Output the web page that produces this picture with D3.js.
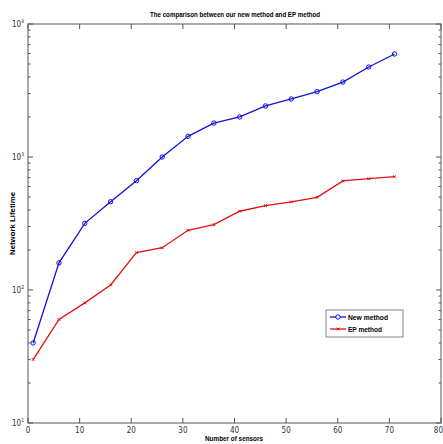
<!DOCTYPE html>
<html>
<head>
<meta charset="utf-8">
<script src="https://cdn.jsdelivr.net/npm/d3@7"></script>
<style>
  body { margin: 0; background: #fff; }
  svg { display: block; }
  .tick-label { font-family: "Liberation Sans Narrow", "DejaVu Sans Condensed", Arial, sans-serif; font-size: 8px; fill: #333; }
  .lbl { font-family: "Liberation Sans", Arial, sans-serif; font-weight: bold; font-size: 8px; fill: #000; }
</style>
</head>
<body>
<div id="chart"></div>
<script>
const sensors = [1, 6, 11, 16, 21, 26, 31, 36, 41, 46, 51, 56, 61, 66, 71];
const newMethod = [40, 160, 317, 461, 664, 1000, 1430, 1800, 2000, 2420, 2730, 3100, 3660, 4750, 5950];
const epMethod = [30, 60, 80, 109, 191, 208, 281, 310, 391, 431, 459, 498, 661, 687, 711];
const xTicks = [0, 10, 20, 30, 40, 50, 60, 70, 80];
const yDecades = [1, 2, 3, 4];

const width = 443, height = 444;
const margin = {top: 24, right: 2, bottom: 21, left: 28};

const svg = d3.select("#chart")
  .append("svg")
    .attr("width", width)
    .attr("height", height);

const x = d3.scaleLinear()
  .domain([0, 80])
  .range([margin.left, width - margin.right]);

const y = d3.scaleLog()
  .domain([10, 10000])
  .range([height - margin.bottom, margin.top]);

const axisColor = "#555";

// box
svg.append("rect")
  .attr("x", x(0))
  .attr("y", y(10000))
  .attr("width", x(80) - x(0))
  .attr("height", y(10) - y(10000))
  .attr("fill", "none")
  .attr("stroke", axisColor)
  .attr("stroke-width", 1);

// x ticks (inside, top and bottom)
const xt = svg.append("g").attr("stroke", axisColor);
xTicks.forEach(t => {
  xt.append("line").attr("x1", x(t)).attr("x2", x(t)).attr("y1", y(10)).attr("y2", y(10) - 5);
  xt.append("line").attr("x1", x(t)).attr("x2", x(t)).attr("y1", y(10000)).attr("y2", y(10000) + 5);
});
svg.append("g").selectAll("text")
  .data(xTicks)
  .join("text")
    .attr("class", "tick-label")
    .attr("x", d => d === 80 ? width : x(d))
    .attr("y", y(10) + 10)
    .attr("text-anchor", d => d === 80 ? "end" : "middle")
    .text(d => d);

// y ticks: decades + minor
const yt = svg.append("g").attr("stroke", axisColor);
const minor = [];
for (let e = 1; e < 4; e++) for (let m = 2; m <= 9; m++) minor.push(m * Math.pow(10, e));
minor.forEach(v => {
  yt.append("line").attr("x1", x(0)).attr("x2", x(0) + 2.5).attr("y1", y(v)).attr("y2", y(v));
  yt.append("line").attr("x1", x(80)).attr("x2", x(80) - 2.5).attr("y1", y(v)).attr("y2", y(v));
});
yDecades.forEach(e => {
  const v = Math.pow(10, e);
  yt.append("line").attr("x1", x(0)).attr("x2", x(0) + 5).attr("y1", y(v)).attr("y2", y(v));
  yt.append("line").attr("x1", x(80)).attr("x2", x(80) - 5).attr("y1", y(v)).attr("y2", y(v));
});
const yl = svg.append("g").selectAll("text")
  .data(yDecades)
  .join("text")
    .attr("class", "tick-label")
    .attr("x", x(0) - 4)
    .attr("y", d => y(Math.pow(10, d)) + 3)
    .attr("text-anchor", "end");
yl.append("tspan").text("10");
yl.append("tspan").attr("dy", -4).attr("font-size", 5).text(d => d);

// lines
const line = d3.line()
  .x(d => x(d[0]))
  .y(d => y(d[1]));

const blue = "#1010e0", red = "#e01010";

svg.append("path")
  .datum(sensors.map((s, i) => [s, newMethod[i]]))
  .attr("fill", "none")
  .attr("stroke", blue)
  .attr("stroke-width", 1.3)
  .attr("d", line);

svg.append("g").selectAll("circle")
  .data(sensors.map((s, i) => [s, newMethod[i]]))
  .join("circle")
    .attr("cx", d => x(d[0]))
    .attr("cy", d => y(d[1]))
    .attr("r", 2.2)
    .attr("fill", "none")
    .attr("stroke", blue)
    .attr("stroke-width", 1);

svg.append("path")
  .datum(sensors.map((s, i) => [s, epMethod[i]]))
  .attr("fill", "none")
  .attr("stroke", red)
  .attr("stroke-width", 1.3)
  .attr("d", line);

const cross = d3.symbol().type(d3.symbolX).size(6);
svg.append("g").selectAll("path")
  .data(sensors.map((s, i) => [s, epMethod[i]]))
  .join("path")
    .attr("transform", d => `translate(${x(d[0])},${y(d[1])})`)
    .attr("d", cross)
    .attr("fill", "none")
    .attr("stroke", red)
    .attr("stroke-width", 1);

// title and axis labels (squeezed to the narrow look of the original)
svg.append("text")
  .attr("class", "lbl")
  .attr("x", 150)
  .attr("y", 17)
  .attr("textLength", 170)
  .attr("lengthAdjust", "spacingAndGlyphs")
  .text("The comparison between our new method and EP method");

svg.append("text")
  .attr("class", "lbl")
  .attr("x", 205)
  .attr("y", 441)
  .attr("textLength", 58)
  .attr("lengthAdjust", "spacingAndGlyphs")
  .text("Number of sensors");

svg.append("text")
  .attr("class", "lbl")
  .attr("transform", "translate(15,255) rotate(-90)")
  .attr("textLength", 63)
  .attr("lengthAdjust", "spacingAndGlyphs")
  .text("Network Lifetime");

// legend
const legend = svg.append("g").attr("transform", "translate(326,310)");
legend.append("rect")
  .attr("width", 77)
  .attr("height", 27)
  .attr("fill", "#fff")
  .attr("stroke", "#666")
  .attr("stroke-width", 0.8);
const items = [
  {label: "New method", color: blue, marker: "o", len: 40},
  {label: "EP method", color: red, marker: "x", len: 34}
];
items.forEach((it, i) => {
  const yy = 7 + i * 12;
  legend.append("line")
    .attr("x1", 4).attr("x2", 20).attr("y1", yy).attr("y2", yy)
    .attr("stroke", it.color).attr("stroke-width", 1.3);
  if (it.marker === "o") {
    legend.append("circle").attr("cx", 12).attr("cy", yy).attr("r", 2.2)
      .attr("fill", "#fff").attr("stroke", it.color);
  } else {
    legend.append("path").attr("transform", `translate(12,${yy})`).attr("d", cross)
      .attr("fill", "none").attr("stroke", it.color);
  }
  legend.append("text")
    .attr("class", "lbl")
    .attr("x", 22)
    .attr("y", yy + 3)
    .attr("textLength", it.len)
    .attr("lengthAdjust", "spacingAndGlyphs")
    .text(it.label);
});
</script>
</body>
</html>
